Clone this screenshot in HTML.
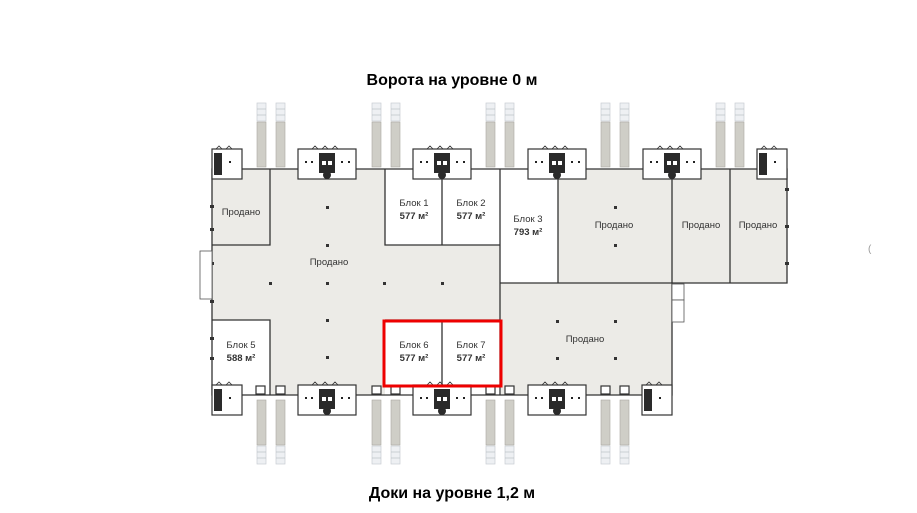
<!DOCTYPE html>
<html><head><meta charset="utf-8"><style>
html,body{margin:0;padding:0;background:#fff;width:917px;height:513px;overflow:hidden}
svg{display:block}
text{font-family:"Liberation Sans",sans-serif}
</style></head><body>
<svg width="917" height="513" viewBox="0 0 917 513" xmlns="http://www.w3.org/2000/svg">
<defs>
<g id="colT">
 <rect x="0" y="0" width="9" height="18" fill="#eef0f3" stroke="#c8ccd2" stroke-width="0.7"/>
 <line x1="0" y1="6" x2="9" y2="6" stroke="#b5b9bf" stroke-width="0.6"/>
 <line x1="0" y1="12" x2="9" y2="12" stroke="#b5b9bf" stroke-width="0.6"/>
 <rect x="0" y="19" width="9" height="45" fill="#cfcec7" stroke="#a9a8a0" stroke-width="0.6"/>
</g>
<g id="colB">
 <rect x="0" y="0" width="9" height="45" fill="#cfcec7" stroke="#a9a8a0" stroke-width="0.6"/>
 <rect x="0" y="46" width="9" height="18" fill="#eef0f3" stroke="#c8ccd2" stroke-width="0.7"/>
 <line x1="0" y1="52" x2="9" y2="52" stroke="#b5b9bf" stroke-width="0.6"/>
 <line x1="0" y1="58" x2="9" y2="58" stroke="#b5b9bf" stroke-width="0.6"/>
</g>
<g id="tower">
 <rect x="0" y="0" width="58" height="30" fill="#fff" stroke="#333" stroke-width="1.2"/>
 <rect x="21" y="4" width="16" height="20" fill="#2a2a2a"/>
 <rect x="24" y="12" width="4" height="4" fill="#fff"/><rect x="30" y="12" width="4" height="4" fill="#fff"/>
 <circle cx="29" cy="26" r="4" fill="#2a2a2a"/>
 <rect x="7" y="12" width="2" height="2" fill="#222"/><rect x="13" y="12" width="2" height="2" fill="#222"/>
 <rect x="43" y="12" width="2" height="2" fill="#222"/><rect x="50" y="12" width="2" height="2" fill="#222"/>
 <path d="M14 0 l3 -3 l3 3 M24 0 l3 -3 l3 3 M34 0 l3 -3 l3 3" fill="none" stroke="#333" stroke-width="0.8"/>
</g>
<g id="smallT">
 <rect x="0" y="0" width="30" height="30" fill="#fff" stroke="#333" stroke-width="1.2"/>
 <rect x="2" y="4" width="8" height="22" fill="#2a2a2a"/>
 <rect x="17" y="12" width="2" height="2" fill="#222"/>
 <path d="M4 0 l3 -3 l3 3 M14 0 l3 -3 l3 3" fill="none" stroke="#333" stroke-width="0.8"/>
</g>
</defs>

<text x="452" y="85" text-anchor="middle" font-size="16" font-weight="bold" fill="#000">Ворота на уровне 0 м</text>
<text x="452" y="498" text-anchor="middle" font-size="16" font-weight="bold" fill="#000">Доки на уровне 1,2 м</text>

<use href="#colT" x="257" y="103"/><use href="#colT" x="276" y="103"/>
<use href="#colT" x="372" y="103"/><use href="#colT" x="391" y="103"/>
<use href="#colT" x="486" y="103"/><use href="#colT" x="505" y="103"/>
<use href="#colT" x="601" y="103"/><use href="#colT" x="620" y="103"/>
<use href="#colT" x="716" y="103"/><use href="#colT" x="735" y="103"/>
<use href="#colB" x="257" y="400"/><use href="#colB" x="276" y="400"/>
<use href="#colB" x="372" y="400"/><use href="#colB" x="391" y="400"/>
<use href="#colB" x="486" y="400"/><use href="#colB" x="505" y="400"/>
<use href="#colB" x="601" y="400"/><use href="#colB" x="620" y="400"/>

<rect x="212" y="169" width="288" height="226" fill="#ecebe7"/>
<rect x="500" y="283" width="172" height="112" fill="#ecebe7"/>
<rect x="558" y="169" width="229" height="114" fill="#ecebe7"/>
<rect x="385" y="169" width="116" height="76" fill="#fff"/>
<rect x="501" y="169" width="57" height="114" fill="#fff"/>
<rect x="212" y="320" width="58" height="75" fill="#fff"/>
<rect x="385" y="320" width="116" height="75" fill="#fff"/>

<g stroke="#333" stroke-width="1.3" fill="none">
 <path d="M212 169 H787 V283 H672 V395 H212 Z"/>
 <path d="M270 169 V245 H212"/>
 <path d="M385 169 V245 H500"/>
 <path d="M442 169 V245"/>
 <path d="M500 169 V395"/>
 <path d="M500 283 H672"/>
 <path d="M558 169 V283"/>
 <path d="M672 169 V283"/>
 <path d="M730 169 V283"/>
 <path d="M212 320 H270 V395"/>
 <path d="M442 320 V395"/>
 <path d="M385 320 H500"/>
</g>
<g fill="#333">
 <rect x="326" y="206" width="3" height="3"/><rect x="326" y="244" width="3" height="3"/>
 <rect x="269" y="282" width="3" height="3"/><rect x="326" y="282" width="3" height="3"/><rect x="383" y="282" width="3" height="3"/><rect x="441" y="282" width="3" height="3"/>
 <rect x="326" y="319" width="3" height="3"/><rect x="326" y="356" width="3" height="3"/>
 <rect x="556" y="320" width="3" height="3"/><rect x="614" y="320" width="3" height="3"/><rect x="556" y="357" width="3" height="3"/><rect x="614" y="357" width="3" height="3"/>
 <rect x="614" y="206" width="3" height="3"/><rect x="614" y="244" width="3" height="3"/>
 <rect x="210" y="205" width="4" height="3"/><rect x="210" y="228" width="4" height="3"/><rect x="210" y="262" width="4" height="3"/><rect x="210" y="300" width="4" height="3"/><rect x="210" y="337" width="4" height="3"/><rect x="210" y="357" width="4" height="3"/>
 <rect x="785" y="188" width="4" height="3"/><rect x="785" y="225" width="4" height="3"/><rect x="785" y="262" width="4" height="3"/>
</g>
<use href="#smallT" x="212" y="149"/>
<use href="#tower" x="298" y="149"/>
<use href="#tower" x="413" y="149"/>
<use href="#tower" x="528" y="149"/>
<use href="#tower" x="643" y="149"/>
<use href="#smallT" x="757" y="149"/>
<use href="#smallT" x="212" y="385"/>
<use href="#tower" x="298" y="385"/>
<use href="#tower" x="413" y="385"/>
<use href="#tower" x="528" y="385"/>
<use href="#smallT" x="642" y="385"/>
<g fill="#fff" stroke="#333" stroke-width="1.2">
 <rect x="256" y="386" width="9" height="8"/><rect x="276" y="386" width="9" height="8"/>
 <rect x="372" y="386" width="9" height="8"/><rect x="391" y="386" width="9" height="8"/>
 <rect x="486" y="386" width="9" height="8"/><rect x="505" y="386" width="9" height="8"/>
 <rect x="601" y="386" width="9" height="8"/><rect x="620" y="386" width="9" height="8"/>
</g>
<g fill="#fff" stroke="#555" stroke-width="0.8">
 <rect x="200" y="251" width="12" height="48"/>
 <rect x="672" y="284" width="12" height="16"/><rect x="672" y="300" width="12" height="22"/>
</g>

<g font-size="9.5" fill="#333" text-anchor="middle">
 <text x="241" y="215">Продано</text>
 <text x="329" y="265">Продано</text>
 <text x="414" y="206">Блок 1</text><text x="414" y="219" font-weight="bold">577 м²</text>
 <text x="471" y="206">Блок 2</text><text x="471" y="219" font-weight="bold">577 м²</text>
 <text x="528" y="222">Блок 3</text><text x="528" y="235" font-weight="bold">793 м²</text>
 <text x="614" y="228">Продано</text>
 <text x="701" y="228">Продано</text>
 <text x="758" y="228">Продано</text>
 <text x="585" y="342">Продано</text>
 <text x="241" y="348">Блок 5</text><text x="241" y="361" font-weight="bold">588 м²</text>
 <text x="414" y="348">Блок 6</text><text x="414" y="361" font-weight="bold">577 м²</text>
 <text x="471" y="348">Блок 7</text><text x="471" y="361" font-weight="bold">577 м²</text>
</g>
<rect x="384" y="321" width="117" height="65" fill="none" stroke="#ee0000" stroke-width="3"/>
<text x="868" y="252" font-size="10" fill="#999">(</text>
</svg>
</body></html>
